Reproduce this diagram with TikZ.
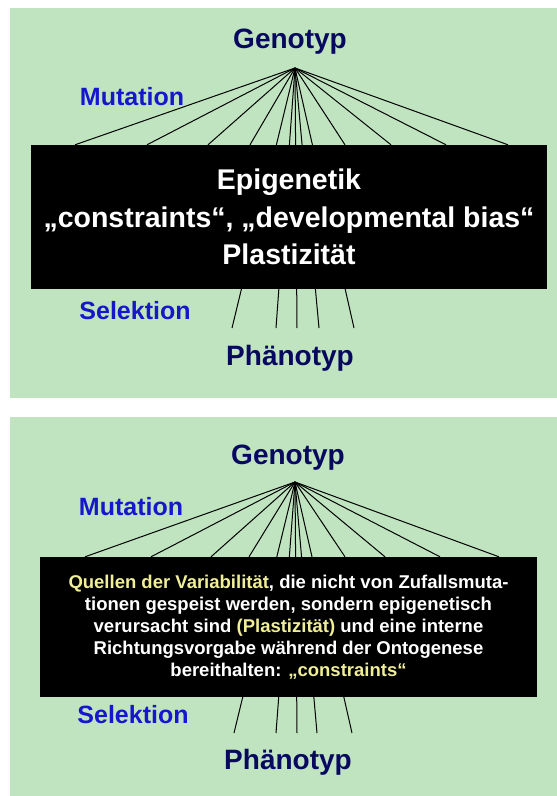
\documentclass[tikz,border=0pt]{standalone}
\usepackage{fontspec}
\setmainfont{Liberation Sans}
\usepackage{tikz}
\usetikzlibrary{calc}
\pgfdeclarelayer{background}
\pgfsetlayers{background,main}

\definecolor{panelgreen}{RGB}{192,228,192}
\definecolor{navy}{RGB}{8,8,95}
\definecolor{forceblue}{RGB}{22,22,205}
\definecolor{paleyellow}{RGB}{240,238,150}
\newcommand{\gelb}[1]{\textcolor{paleyellow}{#1}}

\tikzset{
  pole/.style={text=navy, font=\bfseries\fontsize{28}{32}\selectfont},
  force/.style={text=forceblue, font=\bfseries\fontsize{25}{29}\selectfont},
  blackbox/.style={fill=black, text=white, align=center, inner sep=0pt},
  ray/.style={line width=1pt},
}

\begin{document}
\begin{tikzpicture}[x=1pt, y=-1pt]
    % Rahmen
    \useasboundingbox (0,0) rectangle (557,796);

    % oberes Bild
    \node[pole] (geno1) at (290,42) {Genotyp};
    \coordinate (apex1) at (295,68);
    \node[force] (mut1) at (132,97) {Mutation};
    \node[blackbox, minimum width=516pt, minimum height=144pt,
          font=\bfseries\fontsize{28.5}{37.5}\selectfont] (box1) at (289,217)
        {Epigenetik\\„constraints“, „developmental bias“\\Plastizität};
    \node[force] (sel1) at (135,311) {Selektion};
    \node[pole] (pheno1) at (290,358) {Phänotyp};

    \begin{pgfonlayer}{background}
    \fill[white] (0,0) rectangle (557,796);
    \fill[panelgreen] (10,8) rectangle (557,398);
    % Strahlen vom Genotyp
    \foreach \x in {75,147,208,250,345,391,446,508}
        \draw[ray] (apex1) -- (box1.north -| \x,0);
    \foreach \x in {232,276,297,319,354}
        \draw[ray] (apex1) -- (\x,328);
    \end{pgfonlayer}

    % unteres Bild
    \node[pole] (geno2) at (288,458) {Genotyp};
    \coordinate (apex2) at (295,482);
    \node[force] (mut2) at (131,507) {Mutation};
    \node[blackbox, minimum width=497pt, minimum height=140pt,
          font=\bfseries\fontsize{18.5}{22}\selectfont] (box2) at (288.5,627)
        {\gelb{Quellen der Variabilität}, die nicht von Zufallsmuta-\\
         tionen gespeist werden, sondern epigenetisch\\
         verursacht sind \gelb{(Plastizität)} und eine interne\\
         Richtungsvorgabe während der Ontogenese\\
         bereithalten: \gelb{„constraints“}};
    \node[force] (sel2) at (133,715) {Selektion};
    \node[pole] (pheno2) at (288,762) {Phänotyp};

    \begin{pgfonlayer}{background}
    \fill[panelgreen] (10,417) rectangle (557,796);
    % Strahlen vom Genotyp
    \foreach \x in {85,151,211,249,345,385,440,499}
        \draw[ray] (apex2) -- (box2.north -| \x,0);
    \foreach \x in {234,276,297,317,352}
        \draw[ray] (apex2) -- (\x,733);
    \end{pgfonlayer}
\end{tikzpicture}
\end{document}
